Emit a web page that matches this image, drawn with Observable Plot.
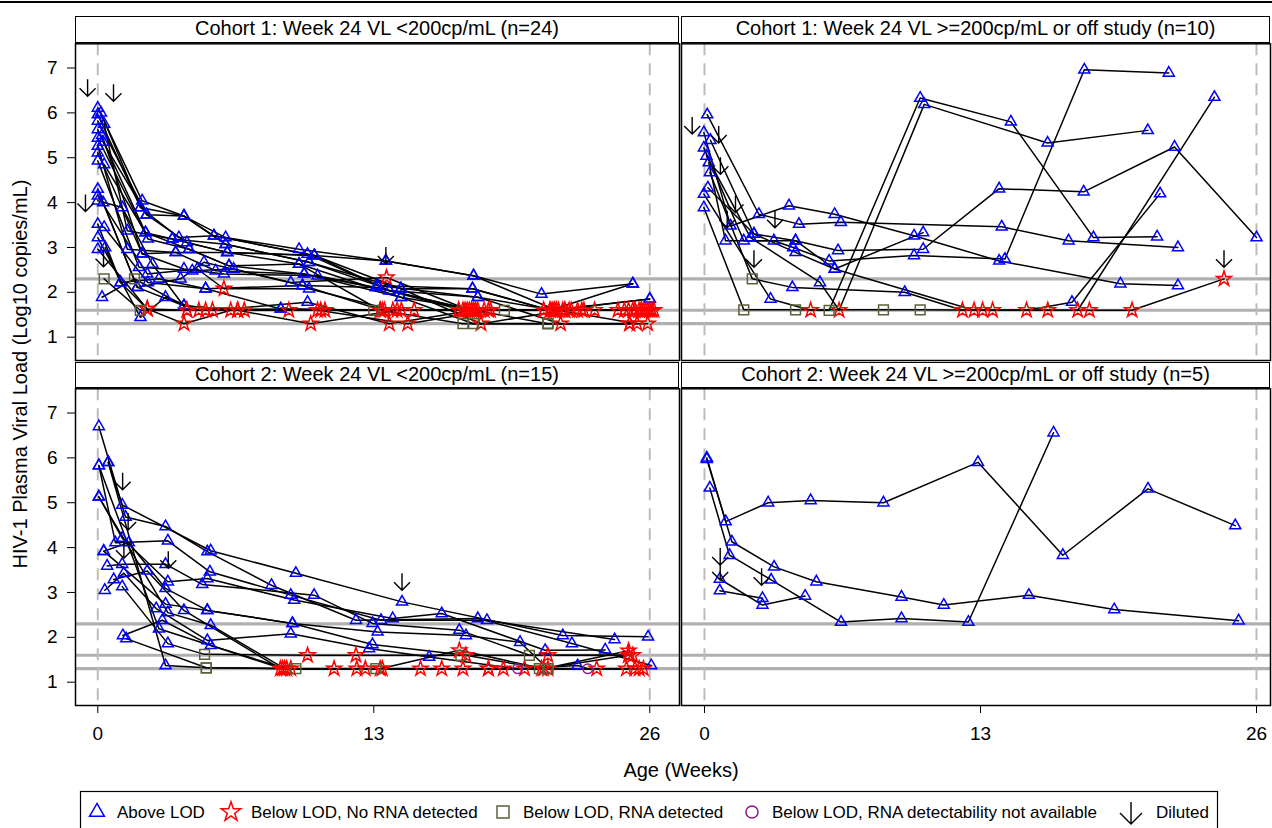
<!DOCTYPE html>
<html>
<head>
<meta charset="utf-8">
<script src="https://cdn.jsdelivr.net/npm/d3@7"></script>
<script src="https://cdn.jsdelivr.net/npm/@observablehq/plot@0.6"></script>
<style>
  html, body { margin: 0; padding: 0; background: #fff; }
  #root { position: relative; width: 1272px; height: 828px; overflow: hidden; background: #fff;
          font-family: "Liberation Sans", Arial, Helvetica, sans-serif; color: #000; }
  .abs { position: absolute; }
  .strip { position: absolute; box-sizing: border-box; border: 1.5px solid #000; height: 26.5px;
           font-size: 20px; line-height: 23px; text-align: center; white-space: nowrap; color: #000; }
</style>
</head>
<body>
<div id="root"></div>
<script>
// ---------------- DATA ----------------
const panelTitles = [
  "Cohort 1: Week 24 VL <200cp/mL (n=24)",
  "Cohort 1: Week 24 VL >=200cp/mL or off study (n=10)",
  "Cohort 2: Week 24 VL <200cp/mL (n=15)",
  "Cohort 2: Week 24 VL >=200cp/mL or off study (n=5)"
];
const statusCodes = ["A", "S", "Q", "O"];
const statusLabels = ["Above LOD", "Below LOD, No RNA detected", "Below LOD, RNA detected",
                      "Below LOD, RNA detectability not available"];
const dilutedLabel = "Diluted";
const xTicks = [0, 13, 26];
const yTicks = [1, 2, 3, 4, 5, 6, 7];
const refLevels = [2.3, 1.6, 1.3];
const refWeeks = [0, 26];
const xTitle = "Age (Weeks)";
const yTitle = "HIV-1 Plasma Viral Load (Log10 copies/mL)";

// each subject: [week, log10 VL, status]
const cohort1Low = [
  [[0,6.11,"A"],[2.09,4.04,"A"],[4.06,3.70,"A"],[6.02,3.22,"A"],[9.48,2.96,"A"],[13.57,2.70,"A"],[17.7,2.37,"A"],[20.9,1.96,"A"],[25.2,2.19,"A"]],
  [[0,5.96,"A"],[2.01,3.89,"A"],[3.82,3.22,"A"],[5.47,3.26,"A"],[9.88,2.85,"A"],[13.18,2.15,"A"],[17.65,2.08,"A"],[21.3,1.6,"S"],[26.0,1.85,"A"]],
  [[0,5.82,"A"],[2.3,3.73,"A"],[4.2,3.11,"A"],[6.1,2.89,"A"],[10.2,2.82,"A"],[13.73,2.04,"A"],[17.9,1.89,"A"],[21.8,1.3,"S"],[25.05,1.3,"S"]],
  [[0,5.63,"A"],[2.25,3.33,"A"],[3.51,3.19,"A"],[6.02,3.07,"A"],[9.95,2.67,"A"],[14.28,2.08,"A"],[18.05,1.3,"S"],[22.0,1.6,"S"],[25.5,1.6,"S"]],
  [[0,5.44,"A"],[2.36,3.19,"A"],[4.3,2.96,"A"],[6.18,2.59,"A"],[9.48,2.63,"A"],[13.3,1.6,"S"],[17.0,1.6,"S"],[21.5,1.6,"S"],[24.5,1.6,"S"]],
  [[0,5.26,"A"],[1.39,2.96,"A"],[3.67,2.89,"A"],[5.55,2.48,"A"],[9.72,2.41,"A"],[14.28,1.89,"A"],[17.7,1.3,"Q"],[21.2,1.3,"Q"],[25.9,1.3,"S"]],
  [[0,5.11,"A"],[2.09,2.86,"A"],[4.06,2.52,"A"],[5.94,2.41,"A"],[10.35,2.37,"A"],[13.1,2.11,"A"],[17.2,1.6,"S"],[21.6,1.6,"S"],[25.0,1.6,"S"]],
  [[0,4.93,"A"],[1.94,2.56,"A"],[4.45,2.48,"A"],[6.4,2.52,"A"],[9.09,2.22,"A"],[13.6,2.33,"S"],[17.5,1.6,"S"],[22.3,1.6,"S"],[25.7,1.6,"S"]],
  [[0,4.30,"A"],[1.86,2.11,"A"],[3.9,2.30,"A"],[5.0,2.67,"A"],[9.64,2.15,"A"],[13.4,1.6,"S"],[18.2,1.6,"S"],[22.6,1.6,"S"],[26.1,1.6,"S"]],
  [[0,4.15,"A"],[2.33,2.41,"A"],[4.69,2.52,"A"],[5.94,2.08,"S"],[9.95,2.08,"A"],[13.9,1.6,"S"],[17.8,1.6,"S"],[22.0,1.6,"S"],[25.2,1.6,"S"]],
  [[0,3.52,"A"],[1.07,2.22,"A"],[2.88,2.30,"A"],[5.08,2.08,"A"],[8.62,1.63,"A"],[13.0,1.6,"Q"],[17.4,1.6,"S"],[21.0,1.6,"S"],[24.8,1.6,"S"]],
  [[0,3.22,"A"],[2.01,1.44,"A"],[3.19,1.89,"A"],[4.76,1.6,"S"],[9.0,1.6,"S"],[13.5,1.6,"S"],[17.3,1.6,"S"],[21.9,1.6,"S"],[25.3,1.6,"S"]],
  [[0,2.96,"A"],[2.33,1.63,"S"],[4.06,1.30,"S"],[6.26,1.6,"S"],[10.35,1.6,"S"],[14.6,1.3,"S"],[18.5,1.6,"S"],[22.9,1.6,"S"],[25.6,1.6,"S"]],
  [[0.2,1.89,"A"],[1.73,2.30,"Q"],[4.06,1.70,"A"],[6.58,1.6,"S"],[10.03,1.30,"S"],[14.1,1.6,"S"],[19.15,1.6,"Q"],[23.4,1.6,"S"],[26.2,1.6,"S"]],
  [[0.3,2.30,"Q"],[2.0,1.6,"Q"],[5.08,1.6,"S"],[6.9,1.6,"S"],[10.7,1.6,"S"],[14.9,1.6,"S"],[17.0,1.6,"S"],[21.4,1.6,"S"],[25.8,1.6,"S"]],
  [[0,4.04,"A"],[1.15,3.89,"A"],[2.57,2.63,"A"],[4.2,1.6,"S"],[5.4,1.6,"S"],[9.88,1.78,"A"],[13.73,1.3,"S"],[17.7,1.6,"S"],[21.2,1.3,"Q"]],
  [[0.3,5.75,"A"],[1.39,3.37,"A"],[3.51,3.19,"A"],[6.1,2.89,"A"],[10.2,2.82,"A"],[14.28,2.08,"A"],[17.65,2.08,"A"],[21.3,1.6,"S"],[25.2,2.19,"A"]],
  [[0.25,5.35,"A"],[2.3,3.73,"A"],[4.06,3.70,"A"],[6.02,3.07,"A"],[9.95,2.67,"A"],[13.18,2.15,"A"],[17.9,1.89,"A"],[21.5,1.6,"S"],[26.0,1.85,"A"]],
  [[0.3,4.85,"A"],[2.25,3.33,"A"],[4.3,2.96,"A"],[6.18,2.59,"A"],[9.72,2.41,"A"],[13.73,2.04,"A"],[17.6,1.6,"S"],[22.2,1.6,"S"],[25.9,1.6,"S"]],
  [[0.25,4.0,"A"],[1.86,2.11,"A"],[4.06,1.70,"A"],[6.6,1.6,"S"],[10.5,1.6,"S"],[14.3,1.6,"S"],[18.4,1.6,"S"],[22.8,1.6,"S"],[26.0,1.6,"S"]],
  [[0.3,3.45,"A"],[2.36,2.22,"A"],[5.08,2.08,"A"],[9.64,2.15,"A"],[13.1,2.11,"A"],[17.7,1.6,"S"],[21.7,1.6,"S"],[25.4,1.3,"S"]],
  [[0.15,6.0,"A"],[2.01,3.89,"A"],[4.06,3.70,"A"],[5.47,3.26,"A"],[10.2,2.82,"A"],[13.57,2.70,"A"],[17.7,2.37,"A"],[21.6,1.6,"S"],[25.6,1.6,"S"]],
  [[0.2,5.5,"A"],[2.09,2.86,"A"],[3.67,2.89,"A"],[6.1,2.89,"A"],[9.48,2.63,"A"],[14.28,1.89,"A"],[17.9,1.6,"S"],[21.0,1.6,"S"],[25.3,1.6,"S"]],
  [[0.35,3.0,"A"],[1.07,2.22,"A"],[2.33,1.63,"S"],[4.2,1.6,"S"],[8.62,1.63,"A"],[13.3,1.6,"S"],[17.2,1.3,"Q"],[21.2,1.3,"Q"],[25.05,1.3,"S"]]
];
const cohort1LowDiluted = [[-0.48,6.37],[0.74,6.26],[-0.58,3.80],[0.27,2.57],[13.57,2.63]];

const cohort1High = [
  [[0.13,5.96,"A"],[2.56,3.74,"A"],[4.45,3.52,"A"],[6.42,3.56,"A"],[14.0,3.46,"A"],[17.15,3.15,"A"],[22.3,3.0,"A"]],
  [[-0.03,5.56,"A"],[1.23,3.48,"A"],[3.98,3.93,"A"],[6.13,3.74,"A"],[9.87,3.26,"A"],[13.88,2.70,"A"],[19.59,2.19,"A"],[22.3,2.15,"A"]],
  [[-0.03,5.22,"A"],[1.85,3.15,"A"],[4.29,3.15,"A"],[6.29,2.93,"A"],[10.3,2.96,"A"],[13.88,4.31,"A"],[17.86,4.24,"A"],[22.14,5.24,"A"],[26.0,3.22,"A"]],
  [[0.2,4.89,"A"],[0.99,3.15,"A"],[3.27,3.15,"A"],[4.18,3.0,"A"],[5.87,2.70,"A"],[9.87,2.82,"A"],[14.15,2.74,"A"],[17.89,6.96,"A"],[21.87,6.89,"A"]],
  [[0.28,5.39,"A"],[2.33,3.30,"A"],[4.29,2.89,"A"],[6.13,2.52,"A"],[10.3,3.33,"A"]],
  [[0.25,4.67,"A"],[2.25,2.30,"Q"],[4.14,2.11,"A"],[9.43,2.0,"A"],[12.15,1.6,"S"],[13.1,1.6,"S"],[15.17,1.6,"S"],[17.31,1.78,"A"],[21.46,4.20,"A"]],
  [[-0.03,4.19,"A"],[3.11,1.85,"A"],[5.0,1.6,"S"],[5.87,1.6,"Q"],[10.16,6.33,"A"],[14.43,5.80,"A"],[18.32,3.22,"A"],[21.32,3.24,"A"]],
  [[-0.03,3.89,"A"],[1.85,1.61,"Q"],[4.29,1.61,"Q"],[8.43,1.61,"Q"],[10.16,1.61,"Q"],[13.57,1.6,"S"],[16.17,1.6,"S"],[17.58,1.6,"S"],[24.02,6.35,"A"]],
  [[0.09,5.04,"A"],[2.17,3.22,"A"],[5.44,2.22,"A"],[6.34,1.6,"S"],[10.35,6.19,"A"],[16.16,5.33,"A"],[20.88,5.61,"A"]],
  [[0.16,4.33,"A"],[2.33,3.30,"A"],[4.29,3.15,"A"],[6.13,2.52,"A"],[12.7,1.6,"S"],[18.13,1.6,"S"],[20.14,1.6,"S"],[24.47,2.30,"S"]]
];
const cohort1HighDiluted = [[-0.58,5.53],[0.67,5.33],[0.75,4.63],[1.46,3.78],[1.07,3.44],[2.33,2.56],[3.32,3.44],[24.47,2.56]];

const cohort2Low = [
  [[0.49,5.90,"A"],[1.15,4.95,"A"],[5.32,3.93,"A"],[9.33,3.43,"A"],[14.33,2.79,"A"],[21.9,2.04,"A"],[25.92,2.01,"A"]],
  [[0.05,6.70,"A"],[1.31,4.68,"A"],[3.19,4.47,"A"],[5.16,3.91,"A"],[8.18,3.16,"A"],[12.16,2.38,"A"],[17.9,2.42,"A"],[22.33,1.86,"A"],[26.07,1.37,"A"]],
  [[0.05,5.83,"A"],[0.83,4.11,"A"],[3.30,4.15,"A"],[5.28,3.46,"A"],[9.09,2.94,"A"],[13.34,2.38,"A"],[18.33,2.38,"A"],[24.34,1.95,"A"]],
  [[0.05,5.13,"A"],[1.15,4.21,"A"],[3.30,3.24,"A"],[5.16,3.31,"A"],[9.25,2.83,"A"],[13.89,2.42,"A"],[16.2,2.53,"A"],[21.07,1.71,"A"],[23.9,1.72,"A"]],
  [[0.28,3.92,"A"],[1.46,4.11,"A"],[3.19,3.09,"A"],[5.16,2.60,"A"],[9.17,2.31,"A"],[13.18,2.12,"A"],[17.34,2.04,"A"],[19.89,1.89,"A"],[21.2,1.3,"Q"]],
  [[0.44,3.59,"A"],[1.15,3.63,"A"],[3.19,3.63,"A"],[4.92,3.18,"A"],[10.19,2.94,"A"],[12.94,2.31,"A"],[17.03,2.16,"A"],[20.33,1.6,"Q"],[25.2,1.6,"S"]],
  [[0.33,3.05,"A"],[1.23,3.43,"A"],[2.75,2.64,"A"],[5.16,1.93,"A"],[9.09,2.08,"A"],[12.78,1.75,"A"],[15.61,1.56,"A"],[19.78,1.3,"O"],[22.6,1.37,"A"],[23.08,1.3,"O"]],
  [[0.75,3.29,"A"],[2.33,3.48,"A"],[4.06,2.60,"A"],[8.6,1.3,"S"],[11.13,1.3,"S"],[15.2,1.3,"S"],[18.4,1.3,"S"],[21.2,1.3,"Q"],[25.3,1.3,"S"]],
  [[1.18,2.04,"A"],[3.04,2.38,"A"],[5.32,1.82,"A"],[8.9,1.3,"S"],[12.6,1.3,"S"],[16.2,1.3,"S"],[20.1,1.3,"S"],[24.9,1.3,"S"]],
  [[1.34,1.97,"A"],[5.11,1.32,"Q"],[9.33,1.30,"Q"],[13.1,1.3,"Q"],[17.2,1.3,"S"],[20.8,1.3,"Q"],[25.7,1.3,"S"]],
  [[1.15,3.13,"A"],[3.30,1.86,"A"],[5.03,1.62,"Q"],[9.88,1.60,"S"],[12.16,1.60,"S"],[17.1,1.60,"Q"],[21.2,1.6,"S"],[25.0,1.6,"S"]],
  [[0.05,5.13,"A"],[3.30,2.55,"A"],[5.32,2.27,"A"],[8.8,1.3,"S"],[13.3,1.3,"S"],[17.03,1.71,"S"],[21.0,1.3,"S"],[25.0,1.7,"S"]],
  [[0.05,5.83,"A"],[2.88,2.19,"A"],[8.7,1.3,"S"],[12.2,1.3,"S"],[19.1,1.3,"S"],[23.5,1.3,"S"],[25.5,1.3,"S"]],
  [[0.49,5.90,"A"],[3.19,1.37,"A"],[5.11,1.32,"Q"],[9.09,1.3,"S"],[13.4,1.3,"S"],[18.4,1.3,"S"],[21.2,1.3,"S"]],
  [[0.28,3.92,"A"],[3.19,2.74,"A"],[5.16,2.60,"A"],[9.17,2.31,"A"],[12.94,1.84,"A"],[17.34,1.60,"S"],[20.9,1.3,"S"],[25.0,1.6,"S"]]
];
const cohort2LowDiluted = [[1.17,5.29],[1.43,4.39],[1.23,3.76],[3.32,3.54],[14.33,3.05]];

const cohort2High = [
  [[0.11,6.0,"A"],[1.0,4.58,"A"],[3.0,5.0,"A"],[5.0,5.05,"A"],[8.43,5.0,"A"],[12.88,5.9,"A"],[16.88,3.83,"A"],[20.89,5.31,"A"],[25.0,4.49,"A"]],
  [[0.25,5.33,"A"],[1.18,3.83,"A"],[3.14,3.28,"A"],[6.43,2.34,"A"],[9.28,2.42,"A"],[12.43,2.34,"A"],[16.44,6.56,"A"]],
  [[0.11,5.97,"A"],[1.29,4.13,"A"],[3.28,3.57,"A"],[5.27,3.24,"A"],[9.28,2.90,"A"],[11.27,2.72,"A"],[15.28,2.94,"A"],[19.3,2.62,"A"],[25.16,2.37,"A"]],
  [[0.72,3.30,"A"],[2.73,2.72,"A"],[4.74,2.92,"A"]],
  [[0.72,3.04,"A"],[2.73,2.87,"A"]]
];
const cohort2HighDiluted = [[0.74,3.61],[0.74,3.28],[2.69,3.16]];

// ---------------- DRAWING ----------------
const FONT = '"Liberation Sans", Arial, Helvetica, sans-serif';
const root = document.getElementById("root");

const symbolOf = {A: "triangle", S: "star", Q: "square", O: "circle"};
const colorOf = {A: "#0000ff", S: "#ff0000", Q: "#5e5e3a", O: "#8b1a8b"};
const radiusOf = {A: 4.1, S: 4.7, Q: 5.5, O: 4.8};

const arrowSymbol = {
  draw(ctx) {
    ctx.moveTo(0, 0); ctx.lineTo(0, -17);
    ctx.moveTo(-8, -8); ctx.lineTo(0, 0); ctx.lineTo(8, -8);
  }
};

function toRows(subjects) {
  return subjects.flatMap((s, i) => s.map(([week, vl, st]) => ({id: i, week, vl, st})));
}

function panel(subjects, diluted, o) {
  const rows = toRows(subjects);
  const dots = statusCodes.map(code =>
    Plot.dot(rows.filter(d => d.st === code), {
      x: "week", y: "vl", symbol: symbolOf[code], r: radiusOf[code],
      stroke: colorOf[code], fill: "none", strokeWidth: 1.5
    }));
  const svg = Plot.plot({
    width: o.width, height: o.height,
    marginTop: o.mt, marginBottom: o.mb, marginLeft: o.ml, marginRight: o.mr,
    style: {fontFamily: FONT, fontSize: "19px", color: "#000", background: "transparent", overflow: "visible"},
    x: {domain: o.xDomain, ticks: xTicks, tickFormat: d => String(d), tickSize: 8, tickPadding: 13,
        axis: o.showX ? "bottom" : null, label: null},
    y: {domain: [0.48, 7.54], ticks: yTicks, tickFormat: d => String(d), tickSize: 8, tickPadding: 10,
        axis: o.showY ? "left" : null, label: null},
    marks: [
      Plot.ruleY(refLevels, {stroke: "#b0b0b0", strokeWidth: 3.2}),
      Plot.ruleX(refWeeks, {stroke: "#bcbcbc", strokeWidth: 2, strokeDasharray: "12,8"}),
      Plot.line(rows, {x: "week", y: "vl", z: "id", stroke: "#000", strokeWidth: 1.5}),
      ...dots,
      Plot.dot(diluted, {x: d => d[0], y: d => d[1], symbol: arrowSymbol, r: 5, stroke: "#000", fill: "none", strokeWidth: 1.4}),
      Plot.frame({stroke: "#000", strokeWidth: 1.5})
    ]
  });
  svg.style.position = "absolute";
  svg.style.left = o.left + "px";
  svg.style.top = o.top + "px";
  root.appendChild(svg);
}

const leftDomain = [-1.05, 27.4];
const rightDomain = [-1.083, 26.66];

panel(cohort1Low, cohort1LowDiluted, {left: 0, top: 40, width: 680, height: 323, mt: 3.3, mb: 3, ml: 75, mr: 1, xDomain: leftDomain, showX: false, showY: true});
panel(cohort1High, cohort1HighDiluted, {left: 679, top: 40, width: 593, height: 323, mt: 3.3, mb: 3, ml: 2, mr: 2, xDomain: rightDomain, showX: false, showY: false});
panel(cohort2Low, cohort2LowDiluted, {left: 0, top: 385, width: 680, height: 370, mt: 3.3, mb: 50, ml: 75, mr: 1, xDomain: leftDomain, showX: true, showY: true});
panel(cohort2High, cohort2HighDiluted, {left: 679, top: 385, width: 593, height: 370, mt: 3.3, mb: 50, ml: 2, mr: 2, xDomain: rightDomain, showX: true, showY: false});

// strips
function strip(text, left, top, width) {
  const d = document.createElement("div");
  d.className = "strip";
  d.style.left = left + "px"; d.style.top = top + "px"; d.style.width = width + "px";
  d.textContent = text;
  root.appendChild(d);
}
strip(panelTitles[0], 75, 16, 604);
strip(panelTitles[1], 681, 16, 589);
strip(panelTitles[2], 75, 361.5, 604);
strip(panelTitles[3], 681, 361.5, 589);

// top rule
const topRule = document.createElement("div");
topRule.className = "abs";
Object.assign(topRule.style, {left: "0px", top: "1px", width: "1272px", height: "2px", background: "#000"});
root.appendChild(topRule);

// axis titles
const yt = document.createElement("div");
yt.className = "abs";
Object.assign(yt.style, {left: "-230px", top: "361px", width: "500px", height: "26px", lineHeight: "26px",
  fontSize: "20px", textAlign: "center", transform: "rotate(-90deg)", transformOrigin: "50% 50%", whiteSpace: "nowrap"});
yt.textContent = yTitle;
root.appendChild(yt);

const xt = document.createElement("div");
xt.className = "abs";
Object.assign(xt.style, {left: "531px", top: "757px", width: "300px", height: "26px", lineHeight: "26px",
  fontSize: "20px", textAlign: "center", whiteSpace: "nowrap"});
xt.textContent = xTitle;
root.appendChild(xt);

// legend
const lg = d3.create("svg").attr("width", 1272).attr("height", 40)
  .style("position", "absolute").style("left", "0px").style("top", "790px")
  .style("font-family", FONT).style("font-size", "17px");
lg.append("rect").attr("x", 80.5).attr("y", 1.5).attr("width", 1137).attr("height", 60)
  .attr("fill", "none").attr("stroke", "#000").attr("stroke-width", 1.2);
const markerX = [97, 231, 503, 752, 1131];
const d3Sym = {A: d3.symbolTriangle, S: d3.symbolStar, Q: d3.symbolSquare, O: d3.symbolCircle};
const legendScale = {A: 1.8, S: 1.7, Q: 1.5, O: 1.6};
statusCodes.forEach((code, i) => {
  const size = Math.PI * radiusOf[code] * radiusOf[code] * legendScale[code];
  lg.append("path").attr("d", d3.symbol(d3Sym[code], size)())
    .attr("transform", `translate(${markerX[i]},22)`)
    .attr("fill", "none").attr("stroke", colorOf[code]).attr("stroke-width", 1.5);
  lg.append("text").attr("x", markerX[i] + 20).attr("y", 28).text(statusLabels[i]);
});
lg.append("path").attr("d", "M1131,12L1131,34M1120,23L1131,34L1142,23")
  .attr("fill", "none").attr("stroke", "#000").attr("stroke-width", 1.4);
lg.append("text").attr("x", 1156).attr("y", 28).text(dilutedLabel);
root.appendChild(lg.node());
</script>
</body>
</html>
